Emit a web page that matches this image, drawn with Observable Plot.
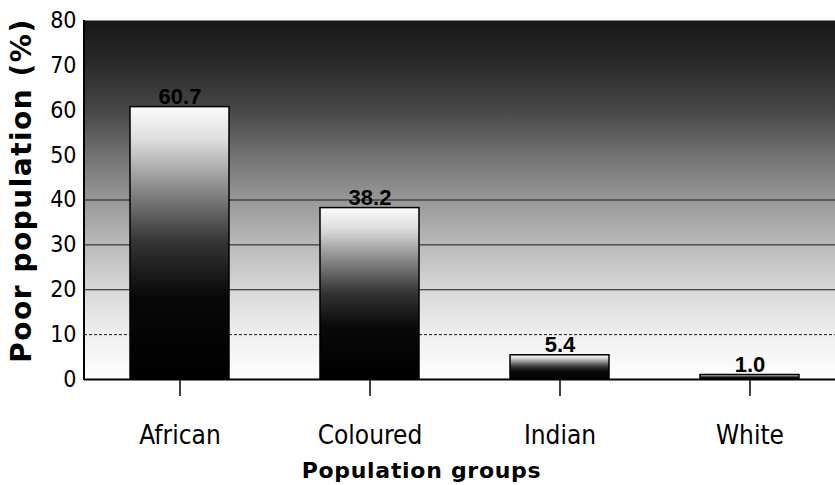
<!DOCTYPE html>
<html><head><meta charset="utf-8">
<script src="https://cdn.jsdelivr.net/npm/d3@7"></script>
<script src="https://cdn.jsdelivr.net/npm/@observablehq/plot@0.6"></script>
<style>
body{margin:0;background:#fff;overflow:hidden}
#chart svg{display:block}
</style></head><body><div id="chart"></div>
<script>
const categories = ["African", "Coloured", "Indian", "White"];
const values = [60.7, 38.2, 5.4, 1.0];
const yTicks = [0, 10, 20, 30, 40, 50, 60, 70, 80];
const gridSolid = [20, 30, 40];
const gridDashed = [10];
const yTitle = "Poor population (%)";
const xTitle = "Population groups";

const data = categories.map((c, i) => ({group: c, value: values[i]}));

const bgStops = [[0, "#181818"], [0.12, "#2a2a2a"], [0.25, "#474747"], [0.38, "#737373"], [0.5, "#989898"], [0.63, "#bbbbbb"], [0.77, "#dcdcdc"], [0.88, "#f0f0f0"], [1, "#ffffff"]];
const barStops = [[0, "#fbfbfb"], [0.12, "#dedede"], [0.3, "#8a8a8a"], [0.5, "#333333"], [0.7, "#080808"], [1, "#000000"]];

const defsMark = () => {
  const d = d3.create("svg:defs");
  const bg = d.append("linearGradient").attr("id", "bgGrad").attr("x1", 0).attr("y1", 0).attr("x2", 0).attr("y2", 1);
  bgStops.forEach(([o, c]) => bg.append("stop").attr("offset", o).attr("stop-color", c));
  const bar = d.append("linearGradient").attr("id", "barGrad").attr("x1", 0).attr("y1", 0).attr("x2", 0).attr("y2", 1);
  barStops.forEach(([o, c]) => bar.append("stop").attr("offset", o).attr("stop-color", c));
  return d.node();
};

const yAxisLine = (index, scales, values, dims) => {
  return d3.create("svg:line")
    .attr("x1", dims.marginLeft).attr("x2", dims.marginLeft)
    .attr("y1", dims.marginTop).attr("y2", dims.height - dims.marginBottom + 1)
    .attr("stroke", "#000").attr("stroke-width", 2).node();
};

const narrow = "'Liberation Sans Narrow', 'Arial Narrow', 'DejaVu Sans Condensed', sans-serif";

const plot = Plot.plot({
  width: 835,
  height: 485,
  marginLeft: 84,
  marginRight: -9,
  marginTop: 20,
  marginBottom: 106,
  style: {fontFamily: narrow, background: "white", color: "black"},
  x: {domain: categories, paddingInner: 0.48, paddingOuter: 0.24},
  y: {domain: [0, 80]},
  marks: [
    defsMark,
    Plot.frame({fill: "url(#bgGrad)", stroke: "none"}),
    Plot.ruleY(gridSolid, {stroke: "#1a1a1a", strokeWidth: 1}),
    Plot.ruleY(gridDashed, {stroke: "#1a1a1a", strokeWidth: 1, strokeDasharray: "3,2"}),
    Plot.barY(data, {x: "group", y: "value", fill: "url(#barGrad)", stroke: "#000", strokeWidth: 1.5}),
    Plot.text(data, {x: "group", y: "value", text: d => d.value.toFixed(1), lineAnchor: "bottom", dy: -3,
      fontSize: 22, fontWeight: "bold", fontFamily: "'Liberation Sans', Arial, sans-serif", fill: "#000"}),
    Plot.ruleY([0], {stroke: "#000", strokeWidth: 2}),
    yAxisLine,
    Plot.axisY({ticks: yTicks, tickSize: 0, tickPadding: 8, fontSize: 23, label: null}),
    Plot.axisX({tickSize: 17, tickPadding: 29, fontSize: 26, label: null, strokeWidth: 1.5}),
    Plot.text([yTitle], {frameAnchor: "left", textAnchor: "middle", rotate: -90, dx: -62, dy: -9.5, text: d => d,
      fontSize: 28, fontWeight: "bold", fontFamily: "'DejaVu Sans', sans-serif"}),
    Plot.text([xTitle], {frameAnchor: "bottom", textAnchor: "middle", dx: -43, dy: 98, lineAnchor: "bottom", text: d => d,
      fontSize: 22, fontWeight: "bold", fontFamily: "'DejaVu Sans', sans-serif"})
  ]
});

d3.select(plot).selectAll("text").filter(function() { return this.textContent === yTitle; }).style("letter-spacing", "1.5px");
d3.select(plot).selectAll("text").filter(function() { return this.textContent === xTitle; }).style("letter-spacing", "0.7px");

document.getElementById("chart").appendChild(plot);
</script></body></html>
